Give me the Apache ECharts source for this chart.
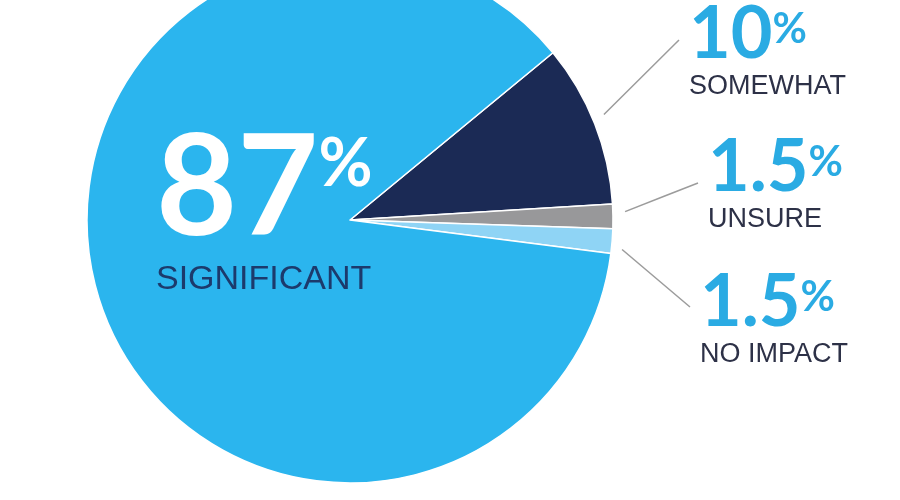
<!DOCTYPE html>
<html><head><meta charset="utf-8">
<script src="https://cdn.jsdelivr.net/npm/echarts/dist/echarts.min.js"></script>
<style>html,body{margin:0;padding:0;background:#fff}#c{width:900px;height:500px}</style>
</head><body><div id="c"></div>
<script>
// ---- data ----
const categories = ['SOMEWHAT', 'UNSURE', 'NO IMPACT', 'SIGNIFICANT'];
const values = [10, 1.5, 1.5, 87];
const valueLabels = ['10', '1.5', '1.5', '87'];
const sliceColors = ['#1B2A55', '#98989A', '#8FD4F5', '#2BB5EE'];

// ---- layout (label anchor spots [x, y, leader-end dy], pixels) ----
const labelSpots = [[689, -2, 42], [708, 131, 52], [700, 266, 41], [156, 120, 0]];

const chart = echarts.init(document.getElementById('c'), null, {renderer: 'canvas'});

const sideRich = {
  num: {fontFamily: 'Lato', fontWeight: 'bold', fontSize: 72, lineHeight: 74, color: '#2AABE3', verticalAlign: 'middle'},
  pct: {fontFamily: 'Lato', fontWeight: 'bold', fontSize: 42, color: '#2AABE3', verticalAlign: 'top', padding: [10, 0, 0, 0]},
  name: {fontFamily: 'Liberation Sans', fontSize: 27, lineHeight: 30, color: '#2D3147'}
};
const centerRich = {
  num: {fontFamily: 'Lato', fontWeight: 'bold', fontSize: 140, lineHeight: 140, color: '#FFFFFF', verticalAlign: 'middle'},
  pct: {fontFamily: 'Lato', fontWeight: 'bold', fontSize: 66, color: '#FFFFFF', verticalAlign: 'top', padding: [12, 0, 0, 0]},
  name: {fontFamily: 'Liberation Sans', fontSize: 34, lineHeight: 40, color: '#1C3A6C'}
};

const data = categories.map((name, i) => {
  const isMain = i === 3;
  return {
    name: name,
    value: values[i],
    itemStyle: {color: sliceColors[i]},
    label: {
      position: isMain ? 'inside' : 'outside',
      formatter: '{num|' + valueLabels[i] + '}{pct|%}\n{name|' + name + '}',
      rich: isMain ? centerRich : sideRich,
      overflow: 'none'
    },
    labelLine: {show: !isMain}
  };
});

chart.setOption({
  animation: false,
  backgroundColor: '#ffffff',
  series: [{
    type: 'pie',
    center: [350, 220],
    radius: 263,
    startAngle: 39.5,
    clockwise: true,
    avoidLabelOverlap: false,
    itemStyle: {borderColor: '#ffffff', borderWidth: 1.5},
    label: {show: true, align: 'left'},
    labelLine: {show: true, length: 10, length2: 10, lineStyle: {color: '#9C9C9C', width: 1.5}},
    labelLayout: function (p) {
      const i = p.dataIndex;
      const x = labelSpots[i][0], y = labelSpots[i][1];
      const out = {x: x, y: y, align: 'left', verticalAlign: 'top'};
      if (i < 3 && p.labelLinePoints) {
        const a = p.labelLinePoints[0];
        const end = [x - 10, y + labelSpots[i][2]];
        const dx = end[0] - a[0], dy = end[1] - a[1];
        const d = Math.hypot(dx, dy);
        const s = [a[0] + dx / d * 13, a[1] + dy / d * 13];
        out.labelLinePoints = [s, [(s[0] + end[0]) / 2, (s[1] + end[1]) / 2], end];
      }
      return out;
    },
    data: data
  }]
});
</script>
</body></html>
